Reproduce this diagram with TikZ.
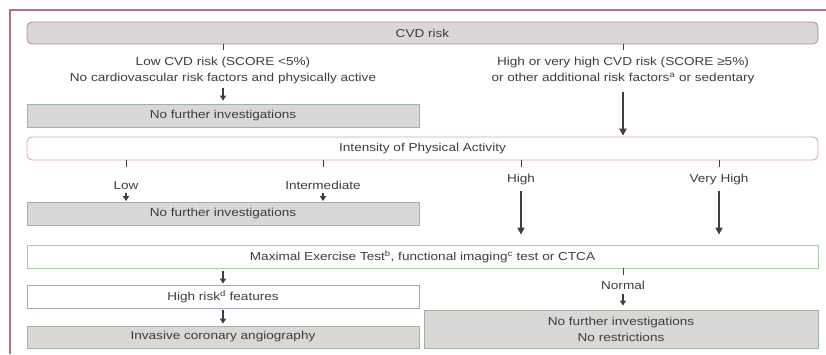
\documentclass[tikz,border=0pt]{standalone}
\usepackage{fontspec}
\setmainfont[FakeStretch=1.18]{Liberation Sans}
\usepackage{tikz}
\usetikzlibrary{arrows.meta,positioning}

\definecolor{boxgray}{HTML}{DAD8D6}
\definecolor{txtgray}{HTML}{3E3E3E}
\definecolor{redline}{HTML}{B8828B}
\definecolor{pinkline}{HTML}{D6A3AC}
\definecolor{greenline}{HTML}{A9CBA9}
\definecolor{sageline}{HTML}{9FB3A2}
\definecolor{blueline}{HTML}{A4AABB}
\definecolor{frameline}{HTML}{B4707E}

\begin{document}
\begin{tikzpicture}[x=1pt, y=-1pt,
    every node/.style={align=center, text=txtgray, font=\fontsize{11.5}{16}\selectfont},
    box/.style={draw, line width=0.8pt, inner sep=0pt, minimum height=23pt},
    wide/.style={box, minimum width=791pt},
    half/.style={box, minimum width=392pt},
    lbl/.style={inner sep=2pt, text height=8.5pt, text depth=2.5pt},
    tick/.style={draw=txtgray, line width=1pt},
    arr/.style={draw=txtgray, line width=1.2pt, -{Triangle[length=5pt, width=6pt]}},
    longarr/.style={arr, line width=1.8pt, -{Triangle[length=7pt, width=7pt]}}]
    \useasboundingbox (0,0) rectangle (826,354);
    \draw[frameline, line width=1.2pt] (10,354) -- (10,10) -- (826,10);

    % boxes
    \node (cvd) [wide, rounded corners=5pt, fill=boxgray, draw=redline, minimum height=22pt] at (422.5,33) {CVD risk};
    \node (nfiA) [half, fill=boxgray, draw=sageline] at (223,115.5) {No further investigations};
    \node (intensity) [wide, rounded corners=5pt, fill=white, draw=pinkline] at (422.5,148.5) {Intensity of Physical Activity};
    \node (nfiB) [half, fill=boxgray, draw=sageline] at (223,213.5) {No further investigations};
    \node (met) [wide, fill=white, draw=greenline] at (422.5,256.5) {Maximal Exercise Test\textsuperscript{b}, functional imaging\textsuperscript{c} test or CTCA};
    \node (hrf) [half, fill=white, draw=blueline] at (223,296.5) {High risk\textsuperscript{d} features};
    \node (ica) [half, fill=boxgray, draw=sageline, minimum height=22pt] at (223,337) {Invasive coronary angiography};
    \node (nfiC) [box, minimum width=394pt, minimum height=38pt, fill=boxgray, draw=sageline] at (621,329) {No further investigations\\No restrictions};

    % labels
    \node (lowrisk) [inner sep=2pt] at (223,71) {Low CVD risk (SCORE <5\%)\\No cardiovascular risk factors and physically active};
    \node (highrisk) [inner sep=2pt] at (623,71) {High or very high CVD risk (SCORE ≥5\%)\\or other additional risk factors\textsuperscript{a} or sedentary};
    \node (low) [lbl] at (126,186) {Low};
    \node (mid) [lbl] at (323,186) {Intermediate};
    \node (high) [lbl] at (521,179) {High};
    \node (vhigh) [lbl] at (719,179) {Very High};
    \node (normal) [lbl] at (623,286) {Normal};

    % connectors
    \draw[tick, shorten >=5.6pt] (cvd.south -| lowrisk) -- (lowrisk.north);
    \draw[tick, shorten >=5.6pt] (cvd.south -| highrisk) -- (highrisk.north);
    \draw[arr, shorten <=1.6pt, shorten >=3pt] (lowrisk.south) -- (nfiA.north -| lowrisk);
    \draw[longarr, shorten <=5.6pt, shorten >=1pt] (highrisk.south) -- (intensity.north -| highrisk);
    \draw[tick, shorten >=11.5pt] (intensity.south -| low) -- (low.north);
    \draw[tick, shorten >=11.5pt] (intensity.south -| mid) -- (mid.north);
    \draw[tick, shorten >=4.5pt] (intensity.south -| high) -- (high.north);
    \draw[tick, shorten >=4.5pt] (intensity.south -| vhigh) -- (vhigh.north);
    \draw[arr, shorten <=-1pt, shorten >=0.5pt] (low.south) -- (nfiB.north -| low);
    \draw[arr, shorten <=-1pt, shorten >=0.5pt] (mid.south) -- (nfiB.north -| mid);
    \draw[longarr, shorten <=4.5pt, shorten >=10pt] (high.south) -- (met.north -| high);
    \draw[longarr, shorten <=4.5pt, shorten >=10pt] (vhigh.south) -- (met.north -| vhigh);
    \draw[arr, shorten <=3pt, shorten >=1pt] (met.south -| hrf) -- (hrf.north);
    \draw[arr, shorten <=2pt, shorten >=2pt] (hrf.south) -- (ica.north);
    \draw[tick, shorten >=3.5pt] (met.south -| normal) -- (normal.north);
    \draw[arr, shorten >=4pt] (normal.south) -- (nfiC.north -| normal);
  \end{tikzpicture}
\end{document}
